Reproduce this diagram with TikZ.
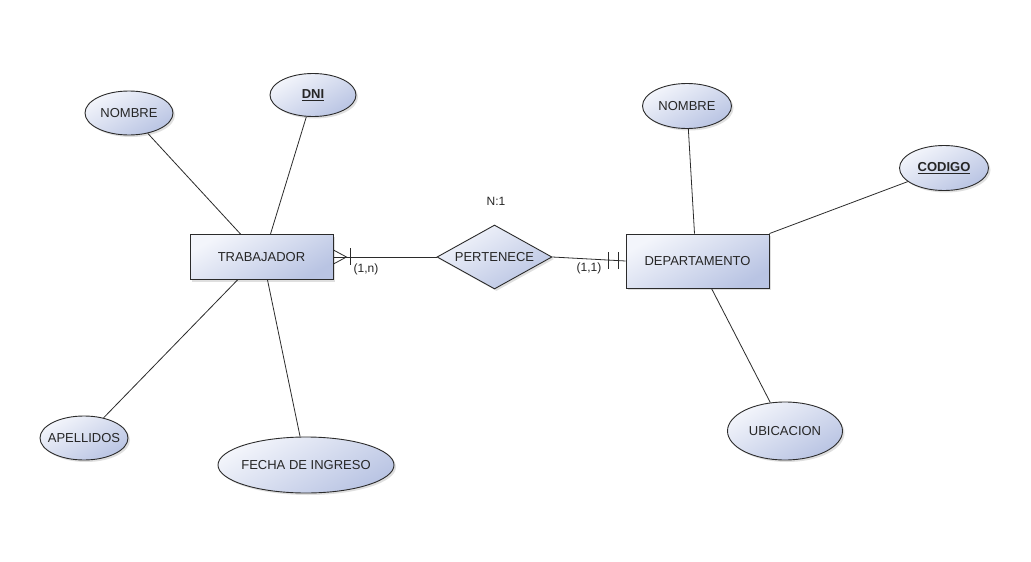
\documentclass[tikz,border=0pt]{standalone}
\usepackage{fontspec}
\setmainfont{Liberation Sans}
\usetikzlibrary{shapes.geometric,shadows,calc}
\definecolor{fillA}{HTML}{F3F5FB}
\definecolor{fillB}{HTML}{B9C4E3}
\definecolor{edgecol}{HTML}{2B2B2B}
\tikzset{
  base/.style={draw=edgecol, line width=0.9pt, top color=fillA, bottom color=fillB, shading angle=30,
    drop shadow={opacity=0.25, shadow xshift=2pt, shadow yshift=-2pt},
    font=\fontsize{13}{15}\selectfont, text=black!85, inner sep=0pt},
  entity/.style={base, rectangle, minimum width=143pt, minimum height=45pt},
  attr/.style={base, ellipse, inner xsep=-14pt, minimum width=88pt, minimum height=44pt},
  rel/.style={base, diamond, minimum width=115pt, minimum height=64pt, aspect=1.8},
  conn/.style={draw=edgecol, line width=0.8pt},
  lbl/.style={font=\fontsize{12}{14}\selectfont, text=black!85, inner sep=0pt}
}
\begin{document}
\begin{tikzpicture}[x=1pt,y=-1pt]
\useasboundingbox[fill=white] (0,0) rectangle (1031,562);

\node[entity] (trab) at (261.5,257) {TRABAJADOR};
\node[entity, minimum height=54pt] (dep) at (697.5,261) {DEPARTAMENTO};
\node[rel] (pert) at (494.5,257) {PERTENECE};

\node[attr] (nom1) at (129,113) {NOMBRE};
\node[attr, minimum width=86pt, minimum height=43pt] (dni) at (313,95) {\underline{\textbf{DNI}}};
\node[attr] (ape) at (84,438) {APELLIDOS};
\node[attr, minimum width=176pt, minimum height=56pt] (fecha) at (306,465) {FECHA DE INGRESO};
\node[attr, minimum width=89pt, minimum height=45pt] (nom2) at (687,106) {NOMBRE};
\node[attr, minimum width=89pt, minimum height=45pt] (cod) at (944,168) {\underline{\textbf{CODIGO}}};
\node[attr, minimum width=115pt, minimum height=58pt] (ubi) at (785,431) {UBICACION};

\node[lbl] (n1) at (496,201) {N:1};
\node[lbl] (c1n) at (366,269) {(1,n)};
\node[lbl] (c11) at (589,268) {(1,1)};

% attribute connectors
\draw[conn] (nom1) -- ([xshift=-21pt]trab.north);
\draw[conn] (dni) -- ([xshift=9pt]trab.north);
\draw[conn] (ape) -- ([xshift=-24pt]trab.south);
\draw[conn] (fecha) -- ([xshift=6pt]trab.south);
\draw[conn] (nom2) -- ([xshift=-3pt]dep.north);
\draw[conn] (cod) -- (dep.north east);
\draw[conn] (ubi) -- ([xshift=14pt]dep.south);

% relationship connectors
\draw[conn] (trab.east) -- (pert.west);
\draw[conn] (pert.east) -- (dep.west);

% crow's foot (many) at TRABAJADOR
\coordinate (cfA) at ($(trab.east)+(13,0)$);
\draw[conn] ($(trab.east)+(0,-7)$) -- (cfA) -- ($(trab.east)+(0,7)$);
\draw[conn] ($(trab.east)+(17,-9)$) -- ($(trab.east)+(17,8)$);

% one-and-only-one at DEPARTAMENTO
\draw[conn] ($(dep.west)+(-7,-9)$) -- ($(dep.west)+(-7,8)$);
\draw[conn] ($(dep.west)+(-17,-9)$) -- ($(dep.west)+(-17,8)$);
\end{tikzpicture}
\end{document}
